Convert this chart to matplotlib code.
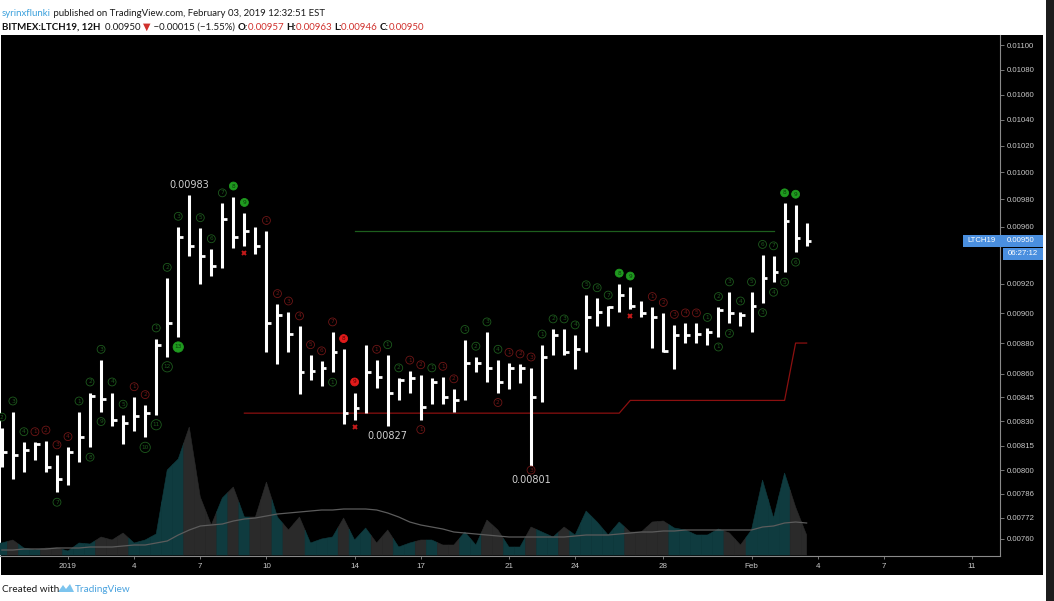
import matplotlib
matplotlib.use('Agg')
import matplotlib.pyplot as plt
import matplotlib.dates as mdates
from matplotlib.patches import Rectangle, Polygon
from matplotlib.ticker import FixedLocator, FixedFormatter, NullLocator
from matplotlib.transforms import offset_copy
import numpy as np
import pandas as pd

# ---- data (12H bars, BITMEX:LTCH19) ----
bar_times = pd.date_range('2018-12-29 00:00', periods=74, freq='12h')

highs = [0.00826, 0.00836, 0.00817, 0.00817, 0.00818, 0.00809, 0.00814, 0.00836, 0.00848, 0.00869,
         0.00848, 0.00834, 0.00845, 0.00840, 0.00883, 0.00924, 0.00960, 0.00983, 0.00959, 0.00944,
         0.00977, 0.00982, 0.00970, 0.00960, 0.00957, 0.00906, 0.00901, 0.00891, 0.00872, 0.00868,
         0.00887, 0.00876, 0.00848, 0.00879, 0.00869, 0.00872, 0.00857, 0.00862, 0.00859, 0.00857,
         0.00858, 0.00850, 0.00882, 0.00871, 0.00887, 0.00869, 0.00867, 0.00866, 0.00864, 0.00879,
         0.00889, 0.00889, 0.00885, 0.00912, 0.00910, 0.00905, 0.00920, 0.00918, 0.00908, 0.00904,
         0.00900, 0.00892, 0.00893, 0.00893, 0.00890, 0.00904, 0.00914, 0.00901, 0.00914, 0.00940,
         0.00939, 0.00977, 0.00976, 0.00963]
lows = [0.00802, 0.00795, 0.00799, 0.00806, 0.00799, 0.00787, 0.00791, 0.00805, 0.00814, 0.00836,
        0.00827, 0.00816, 0.00824, 0.00820, 0.00834, 0.00871, 0.00884, 0.00939, 0.00920, 0.00925,
        0.00931, 0.00945, 0.00946, 0.00941, 0.00874, 0.00866, 0.00874, 0.00847, 0.00856, 0.00852,
        0.00861, 0.00828, 0.00831, 0.00835, 0.00851, 0.00827, 0.00843, 0.00848, 0.00831, 0.00841,
        0.00841, 0.00836, 0.00843, 0.00861, 0.00855, 0.00848, 0.00850, 0.00854, 0.00801, 0.00842,
        0.00872, 0.00872, 0.00863, 0.00874, 0.00891, 0.00891, 0.00901, 0.00903, 0.00897, 0.00877,
        0.00874, 0.00863, 0.00880, 0.00880, 0.00879, 0.00884, 0.00893, 0.00891, 0.00887, 0.00907,
        0.00921, 0.00928, 0.00942, 0.00946]
closes = [0.00811, 0.00809, 0.00812, 0.00816, 0.00802, 0.00795, 0.00811, 0.00820, 0.00846, 0.00844,
          0.00831, 0.00829, 0.00833, 0.00835, 0.00879, 0.00893, 0.00953, 0.00946, 0.00939, 0.00932,
          0.00966, 0.00953, 0.00957, 0.00946, 0.00893, 0.00899, 0.00886, 0.00861, 0.00862, 0.00864,
          0.00874, 0.00835, 0.00838, 0.00861, 0.00858, 0.00848, 0.00856, 0.00857, 0.00839, 0.00855,
          0.00845, 0.00843, 0.00867, 0.00867, 0.00864, 0.00855, 0.00864, 0.00864, 0.00845, 0.00871,
          0.00885, 0.00874, 0.00876, 0.00897, 0.00901, 0.00904, 0.00912, 0.00905, 0.00900, 0.00897,
          0.00875, 0.00885, 0.00885, 0.00886, 0.00887, 0.00902, 0.00900, 0.00899, 0.00905, 0.00924,
          0.00928, 0.00964, 0.00952, 0.00950]

volumes = [12, 15, 7, 5, 7, 7, 4, 12, 11, 18, 15, 22, 12, 15, 21, 85, 96, 128, 58, 30,
           57, 68, 38, 38, 73, 38, 25, 38, 12, 16, 18, 37, 15, 27, 12, 25, 8, 12, 15, 15,
           10, 10, 23, 10, 35, 25, 8, 8, 28, 23, 18, 28, 20, 44, 33, 20, 33, 23, 23, 33,
           34, 27, 25, 20, 20, 26, 22, 10, 25, 75, 37, 82, 48, 20]
volume_ma = [5, 5, 6, 6, 6, 7, 7, 7, 8, 8, 8, 9, 10, 10, 12, 14, 20, 25, 29, 30,
             31, 34, 36, 37, 39, 41, 42, 43, 44, 45, 45, 46, 46, 46, 45, 42, 38, 33, 30, 28,
             26, 23, 22, 21, 20, 19, 18, 18, 18, 18, 18, 18, 19, 20, 20, 20, 21, 22, 23, 23,
             24, 24, 25, 25, 25, 25, 25, 25, 25, 28, 29, 32, 33, 32]

# TD sequential setup counts above bars (+ green, - red, 0 none)
setup_counts = [2, 3, 4, -1, -2, -3, -4, 1, 2, 3,
                4, 5, -1, -2, 1, 2, 3, 0, 5, 6,
                7, 8, 9, 0, -1, -2, -3, -4, -5, -6,
                -7, -8, -9, 0, -1, 1, 2, -1, -2, 1,
                -1, -2, 1, 2, 3, 4, -1, -2, -3, 1,
                2, 3, 4, 5, 6, 7, 8, 9, 0, -1,
                -2, -3, -4, -5, 1, 2, 3, 4, 5, 6,
                7, 8, 9, 0]
# countdown labels below bars
countdown_bars = [5, 8, 9, 13, 14, 15, 16, 30, 38, 45, 48, 65, 66, 69, 70, 71, 72]
countdown_vals = [7, 8, 9, 10, 11, 12, 13, 1, -1, -2, -3, 1, 2, 3, 4, 5, 6]
cross_bars = [22, 32, 57]

# TDST lines
support_levels = [0.00835, 0.00843, 0.00880]
support_from = [22, 57, 72]
resistance_level = 0.00957
resistance_bars = (32, 70)

extreme_high_bar = 17
extreme_low_bars = [35, 48]

price_ticks = [0.01100, 0.01080, 0.01060, 0.01040, 0.01020, 0.01000, 0.00980, 0.00960,
               0.00920, 0.00900, 0.00880, 0.00860, 0.00845, 0.00830, 0.00815, 0.00800,
               0.00786, 0.00772, 0.00760]
date_ticks = ['2019-01-01', '2019-01-04', '2019-01-07', '2019-01-10', '2019-01-14', '2019-01-17',
              '2019-01-21', '2019-01-24', '2019-01-28', '2019-02-01', '2019-02-04', '2019-02-07',
              '2019-02-11']
date_labels = ['2019', '4', '7', '10', '14', '17', '21', '24', '28', 'Feb', '4', '7', '11']

last_price = 0.00950
countdown_text = '06:27:12'

# ---- layout helpers (pixel coords, origin top-left) ----
W, H = 1054, 601


def fx(x):
    return x / W


def fy(y):
    return 1 - y / H


fig = plt.figure(figsize=(W / 100, H / 100), dpi=100, facecolor='white')

# black chart panel and screenshot edge
fig.add_artist(Rectangle((fx(1), fy(575)), fx(1043) - fx(1), fy(35) - fy(575),
                         transform=fig.transFigure, facecolor='black', edgecolor='none', zorder=-10))
fig.add_artist(Rectangle((fx(1046), 0), fx(W) - fx(1046), 1, transform=fig.transFigure,
                         facecolor='#1c1c1c', edgecolor='none', zorder=-10))

rect = [fx(0), fy(556), fx(1000), fy(35) - fy(556)]
ax_v = fig.add_axes(rect, zorder=1)
ax = fig.add_axes(rect, zorder=2)
ax.set_facecolor('none')
ax_v.set_axis_off()

t = mdates.date2num(bar_times)
base = mdates.date2num(pd.Timestamp('2019-01-01'))
xlim = (base - 3.084, base + 42.27)
n = len(t)

# ---- volume (area, coloured per bar) ----
teal, grey = '#0f3b3f', '#2a2a2a'
for i in range(n):
    vl = (volumes[i - 1] + volumes[i]) / 2 if i > 0 else volumes[i]
    vr = (volumes[i] + volumes[i + 1]) / 2 if i < n - 1 else volumes[i]
    right = t[i] + 0.25 if i < n - 1 else t[i]
    up = i == 0 or closes[i] >= closes[i - 1]
    col = teal if up else grey
    ax_v.add_patch(Polygon([(t[i] - 0.25, 0), (t[i] - 0.25, vl), (t[i], volumes[i]),
                            (right, vr), (right, 0)], closed=True,
                           facecolor=col, edgecolor=col, lw=0.4))
ax_v.plot(t, volume_ma, color='#5c5c5c', lw=0.9)
ax_v.set_xlim(*xlim)
ax_v.set_ylim(-1, 520)

# ---- price ----
ax.set_yscale('log')
ax.set_xlim(*xlim)
ax.set_ylim(0.007503, 0.011083)

# TDST lines
sup = np.full(n, np.nan)
for lvl, start in zip(support_levels, support_from):
    sup[start:] = lvl
ax.plot(t, sup, color='#8b1010', lw=0.9, zorder=2)
r0, r1 = resistance_bars
ax.plot([t[r0], t[r1]], [resistance_level, resistance_level], color='#1d5e1d', lw=0.9, zorder=2)

# HLC bars
tick_len = 0.22
ax.vlines(t, lows, highs, color='white', lw=2.2, zorder=3)
ax.hlines(closes, t, t + tick_len, color='white', lw=2.0, zorder=3)


# TD labels
def td_label(x, y, val, dy, filled):
    green = val > 0
    if filled:
        fc = '#1f9a1f' if green else '#e21b1b'
        ec = fc
        tc = '#0b3a0b' if green else '#5a0000'
    else:
        fc = 'black'
        ec = '#1d5a1d' if green else '#6e1616'
        tc = ec
    ax.annotate(str(abs(val)), (x, y), xytext=(0, dy),
                textcoords='offset points', ha='center', va='center',
                fontsize=4.2, color=tc, zorder=5, family='DejaVu Sans',
                bbox=dict(boxstyle='circle,pad=0.25', fc=fc, ec=ec, lw=0.6))


for i, val in enumerate(setup_counts):
    if val != 0:
        td_label(t[i], highs[i], val, 7.6, abs(val) >= 8)
for i, val in zip(countdown_bars, countdown_vals):
    dy = -1.0 if i in extreme_low_bars else -7.2
    td_label(t[i], lows[i], val, dy, abs(val) == 13)

# red crosses a little under the lows
below = offset_copy(ax.transData, fig=fig, x=0, y=-5, units='points')
ax.plot(t[cross_bars], [lows[i] for i in cross_bars], 'x', color='#c41a1a', ms=3.5, mew=1.4,
        zorder=5, linestyle='none', transform=below)

# extreme labels
ax.annotate(f'{highs[extreme_high_bar]:.5f}', (t[extreme_high_bar], highs[extreme_high_bar]),
            xytext=(0, 7.5), textcoords='offset points', ha='center', va='center',
            fontsize=7, color='#d0d0d0', zorder=6)
for i in extreme_low_bars:
    ax.annotate(f'{lows[i]:.5f}', (t[i], lows[i]), xytext=(0, -8.5 if i == 48 else -7),
                textcoords='offset points', ha='center', va='center', fontsize=7,
                color='#d0d0d0', zorder=6)

# axes styling
for s in ['top', 'left']:
    ax.spines[s].set_visible(False)
for s in ['right', 'bottom']:
    ax.spines[s].set_color('#8a8a8a')
    ax.spines[s].set_linewidth(0.8)

ax.yaxis.tick_right()
ax.yaxis.set_major_locator(FixedLocator(price_ticks))
ax.yaxis.set_major_formatter(FixedFormatter([f'{v:.5f}' for v in price_ticks]))
ax.yaxis.set_minor_locator(NullLocator())
ax.tick_params(axis='y', which='both', colors='#8a8a8a', labelcolor='#c8c8c8',
               labelsize=5.6, length=3, width=0.6, pad=2)
for lab in ax.get_yticklabels():
    lab.set_family('Liberation Sans')

xt = mdates.date2num(pd.to_datetime(date_ticks))
ax.xaxis.set_major_locator(FixedLocator(xt))
ax.xaxis.set_major_formatter(FixedFormatter(date_labels))
ax.tick_params(axis='x', colors='#8a8a8a', labelcolor='#c8c8c8', labelsize=5.8,
               length=2, width=0.6, pad=3)
for lab in ax.get_xticklabels():
    lab.set_family('Liberation Sans')

# last price / countdown boxes
blue = '#4a8fdf'
y_last_px = H - ax.transData.transform((xlim[0], last_price))[1]
box_h = fy(0) - fy(12)
for x0, x1, dy in [(963, 1000, 6), (1000, 1043, 6), (1003, 1043, 19)]:
    fig.add_artist(Rectangle((fx(x0), fy(y_last_px + dy)), fx(x1) - fx(x0), box_h,
                             transform=fig.transFigure, facecolor=blue, edgecolor='none',
                             zorder=5))
fig.text(fx(981.5), fy(y_last_px), 'LTCH19', color='white', fontsize=5.6, ha='center',
         va='center', family='Liberation Sans', zorder=6)
fig.text(fx(1007), fy(y_last_px), f'{last_price:.5f}', color='white', fontsize=5.6, ha='left',
         va='center', family='Liberation Sans', zorder=6)
fig.text(fx(1023), fy(y_last_px + 13), countdown_text, color='white', fontsize=5.6,
         ha='center', va='center', family='Liberation Sans', zorder=6)

# ---- header / footer ----
renderer = fig.canvas.get_renderer()
hdr_font = ['Lato', 'DejaVu Sans']


def chain(pieces, x0, y0, size):
    x = x0
    for s, color, weight in pieces:
        txt = fig.text(fx(x), fy(y0), s, color=color, fontsize=size, fontweight=weight,
                       va='center', ha='left', family=hdr_font)
        x += txt.get_window_extent(renderer).width


red = '#d0312d'
chain([('syrinxflunki', '#3aa0dc', 'normal'),
       (' published on TradingView.com, February 03, 2019 12:32:51 EST', '#1a1a1a', 'normal')],
      2, 13, 6.9)
chain([('BITMEX:LTCH19, 12H', '#111111', 'bold'),
       ('  0.00950 ', '#1a1a1a', 'normal'), ('\u25bc', red, 'normal'),
       (' \u22120.00015 (\u22121.55%) ', '#1a1a1a', 'normal'),
       ('O:', '#111111', 'bold'), ('0.00957 ', red, 'normal'),
       ('H:', '#111111', 'bold'), ('0.00963 ', red, 'normal'),
       ('L:', '#111111', 'bold'), ('0.00946 ', red, 'normal'),
       ('C:', '#111111', 'bold'), ('0.00950', red, 'normal')],
      2, 27, 7.0)

fig.text(fx(2), fy(589), 'Created with', color='#1a1a1a', fontsize=7.2, va='center',
         family=hdr_font)
fig.add_artist(Polygon([(fx(58), fy(592)), (fx(63), fy(585)), (fx(66), fy(589)),
                        (fx(70), fy(584)), (fx(74), fy(592))], closed=True,
                       transform=fig.transFigure, facecolor='#7cc4ee', edgecolor='none'))
fig.text(fx(75), fy(589), 'TradingView', color='#4aa3df', fontsize=7.2, va='center',
         family=hdr_font)

fig.savefig('out.png', dpi=100, facecolor='white')
